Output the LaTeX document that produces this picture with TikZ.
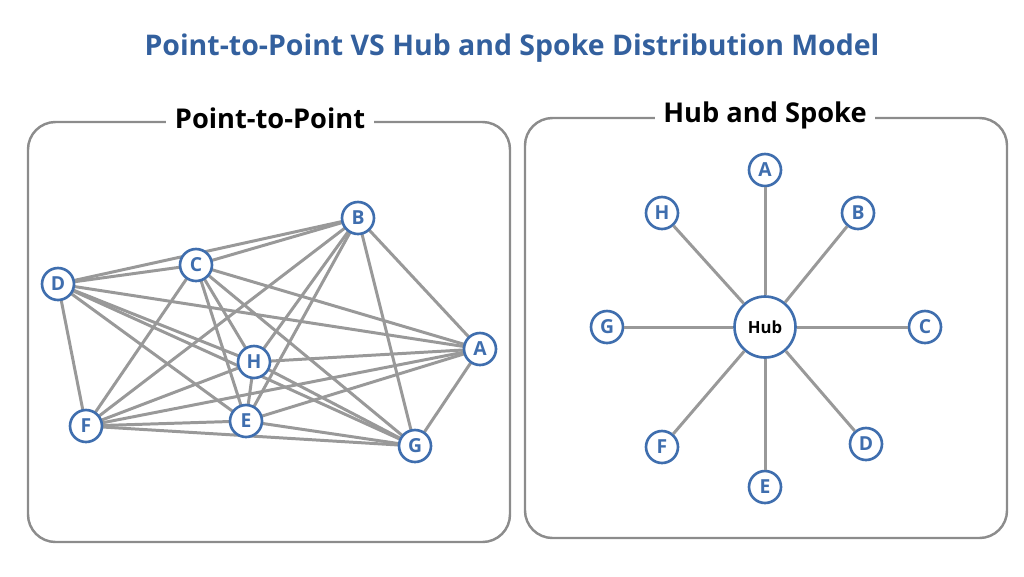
\documentclass[tikz,border=0pt]{standalone}
\usepackage{fontspec}
\setmainfont{Open Sans}
\begin{document}
\begin{tikzpicture}[x=0.02cm,y=-0.02cm,
  edge/.style={draw=gray!80,line width=1.7pt},
  nd/.style={circle,draw=nblue,fill=white,line width=1.5pt,minimum size=0.64cm,inner sep=0pt,font=\fontsize{11}{13}\selectfont\bfseries,text=nblue},
  panel/.style={draw=gray!90,line width=1.4pt,rounded corners=0.55cm},
  plabel/.style={fill=white,inner xsep=5pt,font=\fontsize{15.5}{18}\selectfont\bfseries}]
\definecolor{nblue}{HTML}{3F6EAE}
\definecolor{tblue}{HTML}{33609E}
\useasboundingbox (0,0) rectangle (1024,576);
\node[font=\fontsize{16.2}{19}\selectfont\bfseries,text=tblue] (title) at (512,48) {Point-to-Point VS Hub and Spoke Distribution Model};
\draw[panel] (28,122) rectangle (510,542);
\node[plabel] (pl) at (270,118) {Point-to-Point};
\draw[panel] (525,118) rectangle (1007,538);
\node[plabel] (hl) at (765,115) {Hub and Spoke};
% left graph
\foreach \n/\x/\y in {B/358/218,C/196/265,D/58/284,H/254/362,A/480/349,F/86/426,E/246/421,G/415/446}
  \coordinate (p\n) at (\x,\y);
\foreach \a/\b in {A/B,A/C,A/D,A/E,A/F,A/G,A/H,B/C,B/D,B/E,B/F,B/G,B/H,C/D,C/E,C/F,C/G,C/H,D/E,D/F,D/G,D/H,E/F,E/G,E/H,F/G,F/H,G/H}
  \draw[edge] (p\a) -- (p\b);
\foreach \n in {A,B,C,D,E,F,G,H}
  \node[nd] (l\n) at (p\n) {\n};
% hub
\node[nd,minimum size=1.22cm,text=black,font=\fontsize{9.5}{11}\selectfont\bfseries] (hub) at (765,327) {Hub};
\foreach \n/\x/\y in {A/765/170,B/858/213,C/925/327,D/866/444,E/765/487,F/662/447,G/607/327,H/662/213}{
  \node[nd] (r\n) at (\x,\y) {\n};
  \draw[edge] (hub) -- (r\n);}
\end{tikzpicture}
\end{document}
